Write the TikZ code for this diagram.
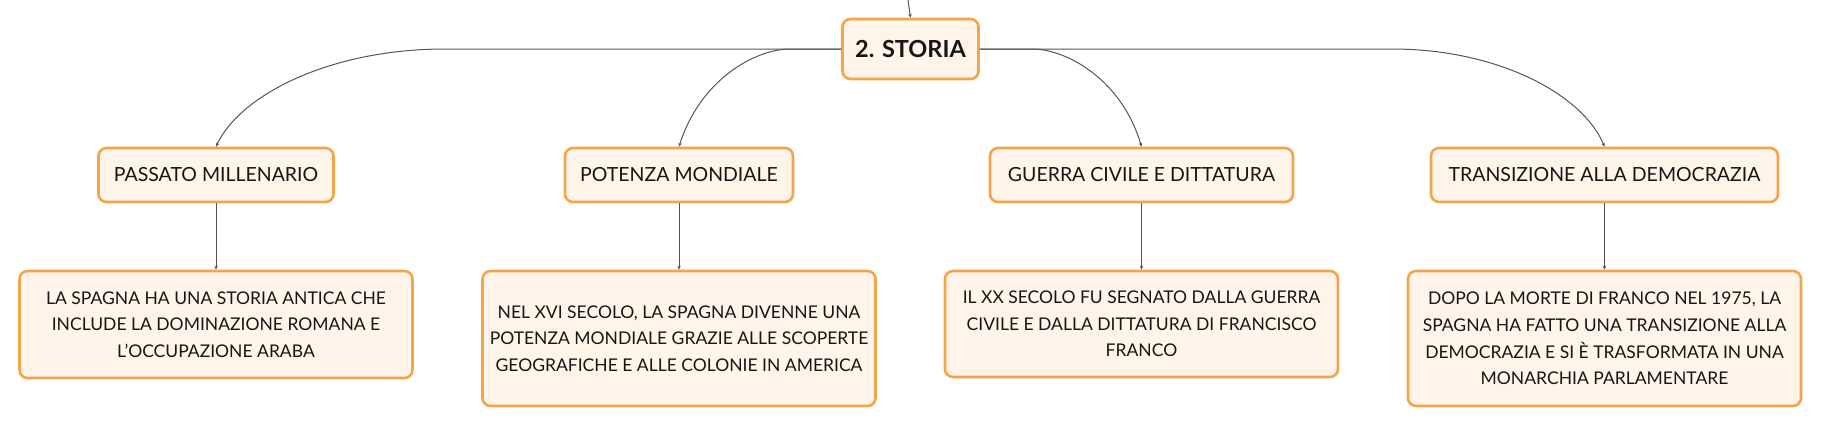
\documentclass[tikz,border=0pt]{standalone}
\usepackage{fontspec}
\setmainfont{Lato}
\usetikzlibrary{arrows.meta}
\definecolor{boxfill}{HTML}{FEF4EA}
\definecolor{boxdraw}{HTML}{F4A449}
\definecolor{linecol}{HTML}{555555}
\definecolor{txt}{HTML}{161616}
\tikzset{
  box/.style={draw=boxdraw, fill=boxfill, line width=2.6pt, rounded corners=8pt,
    text=txt, align=center, inner sep=0pt},
  rootbox/.style={box, font=\fontsize{23.5}{26}\selectfont\bfseries},
  topicbox/.style={box, minimum height=54pt, font=\fontsize{19.5}{23}\selectfont},
  leafbox/.style={box, minimum width=393pt, font=\fontsize{17.5}{26.7}\selectfont},
  conn/.style={draw=linecol, line width=1pt, -{Stealth[length=4pt,width=3.5pt]}},
}
\begin{document}
\begin{tikzpicture}[x=1pt,y=-1pt]
\useasboundingbox (0,0) rectangle (1821,426);
% root
\node[rootbox, minimum width=136pt, minimum height=60pt] (root) at (910.5,49) {2. STORIA};
\coordinate (top) at (908,0);
\draw[conn] (top) -- (root.north);
% topics
\node[topicbox, minimum width=235pt] (pa) at (216,175) {PASSATO MILLENARIO};
\node[topicbox, minimum width=228pt] (po) at (679,175) {POTENZA MONDIALE};
\node[topicbox, minimum width=303pt] (gu) at (1141.5,175) {GUERRA CIVILE E DITTATURA};
\node[topicbox, minimum width=347pt] (tr) at (1604.5,175) {TRANSIZIONE ALLA DEMOCRAZIA};
% leaves
\node[leafbox, minimum height=107pt] (la) at (216,324.5) {LA SPAGNA HA UNA STORIA ANTICA CHE\\INCLUDE LA DOMINAZIONE ROMANA E\\L'OCCUPAZIONE ARABA};
\node[leafbox, minimum height=135pt] (lb) at (679,338.5) {NEL XVI SECOLO, LA SPAGNA DIVENNE UNA\\POTENZA MONDIALE GRAZIE ALLE SCOPERTE\\GEOGRAFICHE E ALLE COLONIE IN AMERICA};
\node[leafbox, minimum height=106pt] (lc) at (1141.5,324) {IL XX SECOLO FU SEGNATO DALLA GUERRA\\CIVILE E DALLA DITTATURA DI FRANCISCO\\FRANCO};
\node[leafbox, minimum height=135pt] (ld) at (1604.5,338.5) {DOPO LA MORTE DI FRANCO NEL 1975, LA\\SPAGNA HA FATTO UNA TRANSIZIONE ALLA\\DEMOCRAZIA E SI È TRASFORMATA IN UNA\\MONARCHIA PARLAMENTARE};
% root to topics
\draw[conn] (root.west) -- (445,49) .. controls (330,49) and (240,95) .. (pa.north);
\draw[conn] (root.west) -- (790,49) .. controls (755,49) and (700,80) .. (po.north);
\draw[conn] (root.east) -- (1032,49) .. controls (1067,49) and (1122,80) .. (gu.north);
\draw[conn] (root.east) -- (1392,49) .. controls (1499,49) and (1583,95) .. (tr.north);
% topics to leaves
\draw[conn] (pa.south) -- (la.north);
\draw[conn] (po.south) -- (lb.north);
\draw[conn] (gu.south) -- (lc.north);
\draw[conn] (tr.south) -- (ld.north);
\end{tikzpicture}
\end{document}
